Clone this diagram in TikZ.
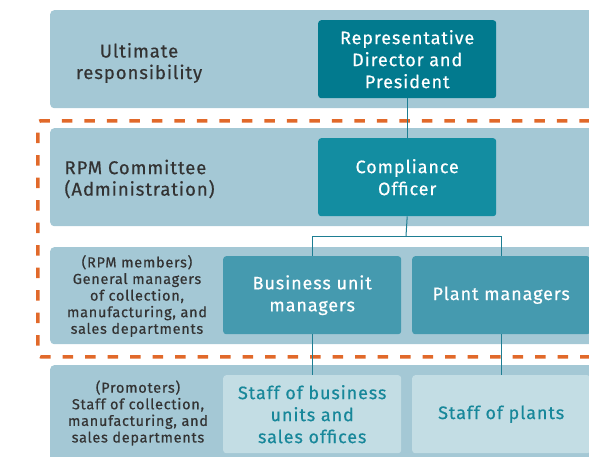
\documentclass[tikz,border=0pt]{standalone}
\usepackage{fontspec}
\setmainfont{Fira Sans}[LetterSpace=5,FakeBold=0.5]
\usetikzlibrary{positioning}
\definecolor{Band}{HTML}{A4C8D5}
\definecolor{Chief}{HTML}{027A8E}
\definecolor{Officer}{HTML}{138DA1}
\definecolor{Manager}{HTML}{459AAF}
\definecolor{Staff}{HTML}{C3DDE4}
\definecolor{StaffInk}{HTML}{17879A}
\definecolor{Ink}{HTML}{333333}
\definecolor{Wire}{HTML}{1E7E93}
\definecolor{Frame}{HTML}{E1692A}
\tikzset{
  band/.style={fill=Band,draw=none,rounded corners=4pt,anchor=north west,minimum width=580pt,inner sep=0pt},
  box/.style={rounded corners=3pt,anchor=north west,minimum width=178pt,minimum height=78pt,inner sep=2pt,
    align=center,text=white,font=\fontsize{18}{22}\selectfont},
  chief/.style={box,fill=Chief},
  officer/.style={box,fill=Officer},
  manager/.style={box,fill=Manager},
  staff/.style={box,fill=Staff,text=StaffInk},
  lab/.style={align=center,text=Ink,font=\fontsize{18.5}{21.5}\selectfont},
  sublab/.style={align=center,text=Ink,font=\fontsize{14.5}{16.6}\selectfont},
  wire/.style={draw=Wire,line width=1pt},
  rpmframe/.style={draw=Frame,line width=3.5pt,dash pattern=on 10.5pt off 12pt,rounded corners=3pt,
    anchor=north west,inner sep=0pt}
}
\begin{document}
\begin{tikzpicture}[x=1pt,y=-1pt]
  \useasboundingbox (0,0) rectangle (589,456);
  \clip (0,0) rectangle (589,456);
  % bands
  \node[band,minimum height=98pt] (topband) at (50,10) {};
  \node[band,minimum height=98pt] (cmtband) at (50,128) {};
  \node[band,minimum height=97pt] (mgrband) at (50,247) {};
  \node[band,minimum height=110pt] (stfband) at (50,365) {};
  % RPM frame
  \node[rpmframe,minimum width=600pt,minimum height=236pt] (rpm) at (36,119) {};
  % boxes
  \node[chief] (pres) at (318,20) {Representative\\Director and\\President};
  \node[officer] (officer) at (318,138) {Compliance\\Officer};
  \node[manager] (unitmgr) at (223,256) {Business unit\\managers};
  \node[manager] (plantmgr) at (412,256) {Plant managers};
  \node[staff] (unitstaff) at (223,375) {Staff of business\\units and\\sales offices};
  \node[staff] (plantstaff) at (412,375) {Staff of plants};
  % connectors
  \coordinate (fork) at (406,236);
  \draw[wire] (pres.south) -- (officer.north);
  \draw[wire] (officer.south) -- (fork);
  \draw[wire] (fork) -| (unitmgr.north);
  \draw[wire] (fork) -| (plantmgr.north);
  \draw[wire] (unitmgr.south) -- (unitstaff.north);
  \draw[wire] (plantmgr.south) -- (plantstaff.north);
  % row labels
  \node[lab] (ultimate) at (139,63) {Ultimate\\responsibility};
  \node[lab,align=left,anchor=west] (committee) at (61,179) {RPM Committee\\(Administration)};
  \node[sublab] (members) at (137,296) {(RPM members)\\General managers\\of collection,\\manufacturing, and\\sales departments};
  \node[sublab] (promoters) at (138,413) {(Promoters)\\Staff of collection,\\manufacturing, and\\sales departments};
\end{tikzpicture}
\end{document}
